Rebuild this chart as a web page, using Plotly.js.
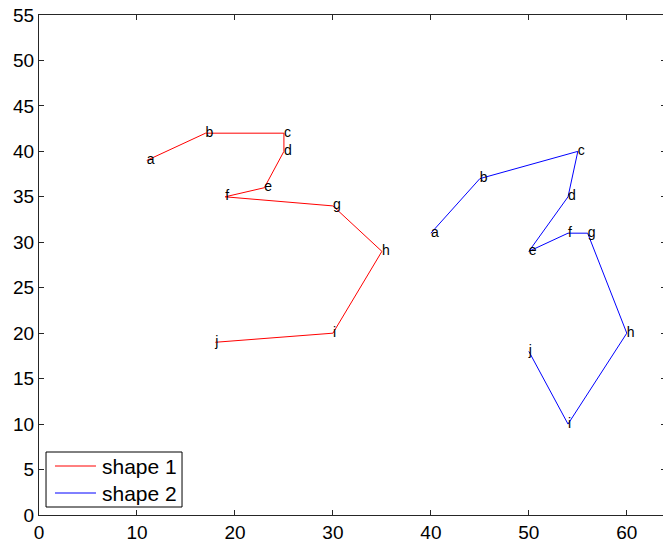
<!DOCTYPE html>
<html>
<head>
<meta charset="utf-8">
<script src="https://cdn.plot.ly/plotly-3.0.1.min.js"></script>
<style>html,body{margin:0;padding:0;overflow:hidden;background:#fff;}</style>
</head>
<body>
<div id="chart"></div>
<script>
const labels = ['a','b','c','d','e','f','g','h','i','j'];
const shape1X = [11, 17, 25, 25, 23, 19, 30, 35, 30, 18];
const shape1Y = [39, 42, 42, 40, 36, 35, 34, 29, 20, 19];
const shape2X = [40, 45, 55, 54, 50, 54, 56, 60, 54, 50];
const shape2Y = [31, 37, 40, 35, 29, 31, 31, 20, 10, 18];
const seriesNames = ['shape 1', 'shape 2'];
const seriesColors = ['#ff0000', '#0000ff'];
const xTicks = [0, 10, 20, 30, 40, 50, 60];
const yTicks = [0, 5, 10, 15, 20, 25, 30, 35, 40, 45, 50, 55];

const font = 'Liberation Sans, Arial, Helvetica, sans-serif';
const traces = [
  {x: shape1X, y: shape1Y, mode: 'lines', name: seriesNames[0], line: {color: seriesColors[0], width: 1}, showlegend: false},
  {x: shape2X, y: shape2Y, mode: 'lines', name: seriesNames[1], line: {color: seriesColors[1], width: 1}, showlegend: false},
  {x: shape1X, y: shape1Y, mode: 'text', text: labels, textposition: 'middle right', showlegend: false, hoverinfo: 'skip', textfont: {family: font, size: 14, color: '#000'}},
  {x: shape2X, y: shape2Y, mode: 'text', text: labels, textposition: 'middle right', showlegend: false, hoverinfo: 'skip', textfont: {family: font, size: 14, color: '#000'}}
];
const axisCommon = {
  showgrid: false, zeroline: false, showline: true, linecolor: '#262626', linewidth: 1,
  mirror: 'ticks', ticks: 'inside', ticklen: 5, tickcolor: '#262626',
  tickfont: {family: font, size: 19, color: '#000'}
};

// legend box drawn in plot-area (paper) coordinates
const legBox = {x0: 0.0112, x1: 0.2281, y0: 0.016, y1: 0.126};
const legRows = [0.098, 0.044];
const shapes = [
  {type: 'rect', xref: 'paper', yref: 'paper', x0: legBox.x0, x1: legBox.x1, y0: legBox.y0, y1: legBox.y1,
   line: {color: '#000', width: 1}, fillcolor: '#fff', layer: 'above'}
];
const annotations = [];
seriesNames.forEach((n, i) => {
  shapes.push({type: 'line', xref: 'paper', yref: 'paper', x0: 0.0255, x1: 0.0909, y0: legRows[i], y1: legRows[i],
    line: {color: seriesColors[i], width: 1}, layer: 'above'});
  annotations.push({xref: 'paper', yref: 'paper', x: 0.0973, y: legRows[i], xanchor: 'left', yanchor: 'middle',
    text: n, showarrow: false, font: {family: font, size: 21, color: '#000'}});
});

const layout = {
  width: 668, height: 542,
  margin: {l: 39, r: 2, t: 15, b: 27},
  paper_bgcolor: '#fff', plot_bgcolor: '#fff',
  xaxis: Object.assign({}, axisCommon, {range: [0, 64], tickvals: xTicks}),
  yaxis: Object.assign({}, axisCommon, {range: [0, 55], tickvals: yTicks}),
  shapes: shapes,
  annotations: annotations,
  showlegend: false
};
Plotly.newPlot('chart', traces, layout, {displayModeBar: false, staticPlot: true});
</script>
</body>
</html>
